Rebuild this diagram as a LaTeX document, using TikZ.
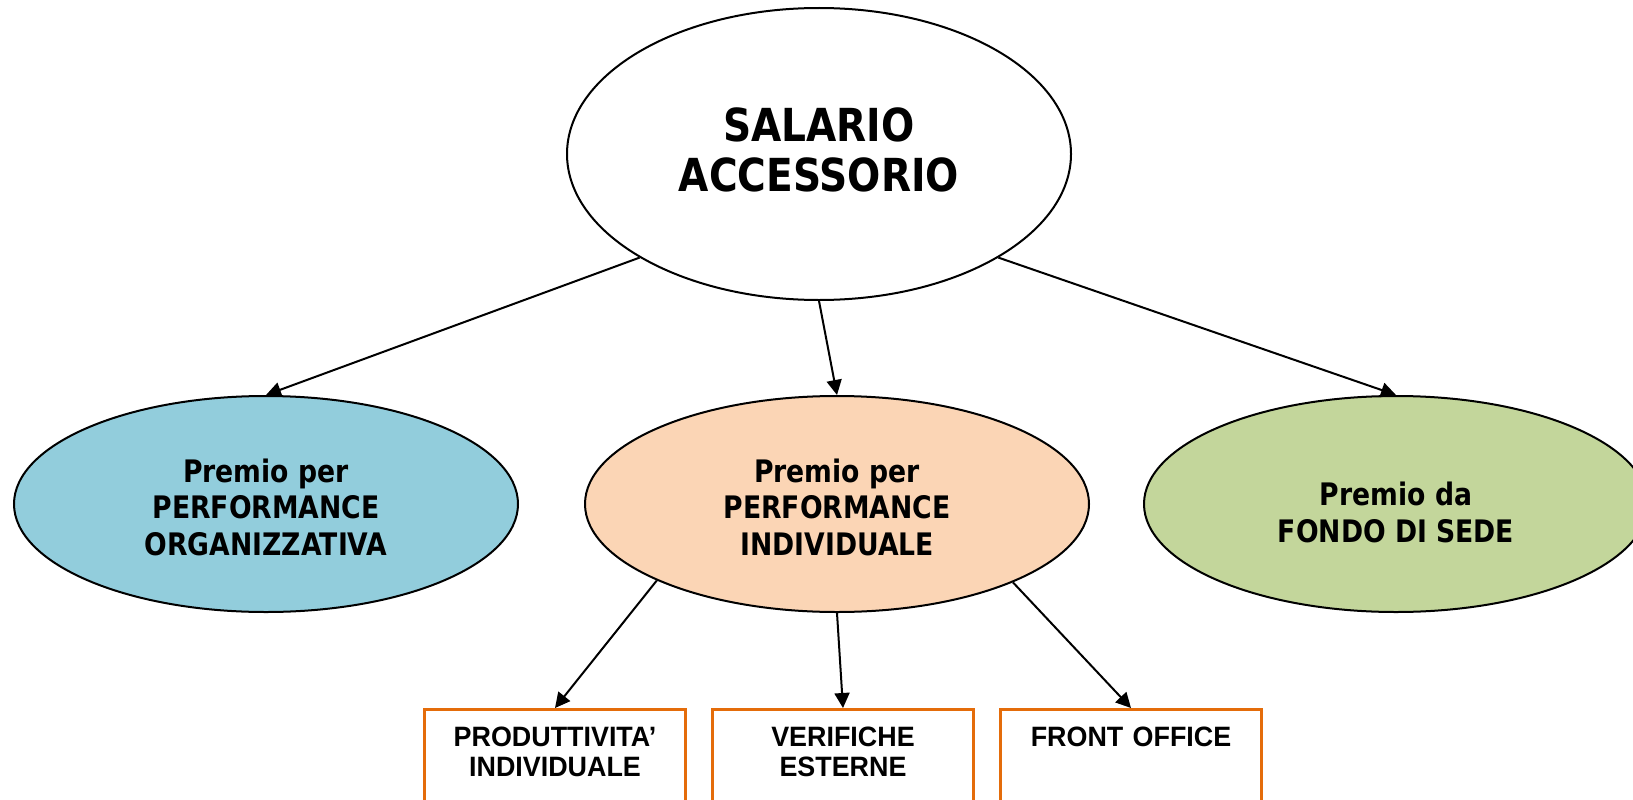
\documentclass[tikz,border=0pt]{standalone}
\usepackage{fontspec}
\setmainfont{DejaVu Sans}[FakeStretch=0.86]
\newfontfamily\boxfont{Liberation Sans}[FakeStretch=0.96]
\usetikzlibrary{shapes.geometric,arrows.meta}
\definecolor{azzurro}{HTML}{92CDDC}
\definecolor{pesca}{HTML}{FBD5B5}
\definecolor{verde}{HTML}{C3D69B}
\definecolor{arancio}{HTML}{E46C0A}
\begin{document}
\begin{tikzpicture}[x=1pt, y=-1pt,
    ovale/.style={ellipse, draw, line width=2pt, inner sep=0pt, align=center, font=\bfseries\fontsize{31}{36.5}\selectfont, minimum width=504pt, minimum height=216pt},
    scatola/.style={draw=arancio, line width=3.2pt, anchor=north, inner xsep=0pt, inner ysep=0pt, text width=261pt, align=center, text height=37pt, text depth=95pt, font=\boxfont\bfseries\fontsize{28}{30}\selectfont},
    freccia/.style={-{Triangle[length=15pt,width=15pt]}, line width=2pt}]
    \useasboundingbox (0,0) rectangle (1633,800);
    % Nodo principale
    \node[ovale, fill=white, minimum height=292pt, text height=85pt, text depth=11pt, font=\bfseries\fontsize{45.5}{50}\selectfont] (salario) at (819,154) {SALARIO\\ACCESSORIO};
    % Tre premi
    \node[ovale, fill=azzurro, text height=110pt, text depth=8pt] (organizzativa) at (266,504) {Premio per\\PERFORMANCE\\ORGANIZZATIVA};
    \node[ovale, fill=pesca, text height=110pt, text depth=8pt] (individuale) at (837,504) {Premio per\\PERFORMANCE\\INDIVIDUALE};
    \node[ovale, fill=verde, text height=86pt, text depth=10pt] (sede) at (1396,504) {Premio da\\FONDO DI SEDE};
    % Voci della performance individuale
    \node[scatola] (produttivita) at (555,708) {PRODUTTIVITA’\\INDIVIDUALE};
    \node[scatola] (verifiche) at (843,708) {VERIFICHE\\ESTERNE};
    \node[scatola] (front) at (1131,708) {FRONT OFFICE};
    % Frecce
    \draw[freccia] (salario.210) -- (organizzativa.north);
    \draw[freccia] (salario.south) -- (individuale.north);
    \draw[freccia] (salario.330) -- (sede.north);
    \draw[freccia] (individuale.203) -- (produttivita.north);
    \draw[freccia] (individuale.south) -- (verifiche.north);
    \draw[freccia] (individuale.336) -- (front.north);
\end{tikzpicture}
\end{document}
